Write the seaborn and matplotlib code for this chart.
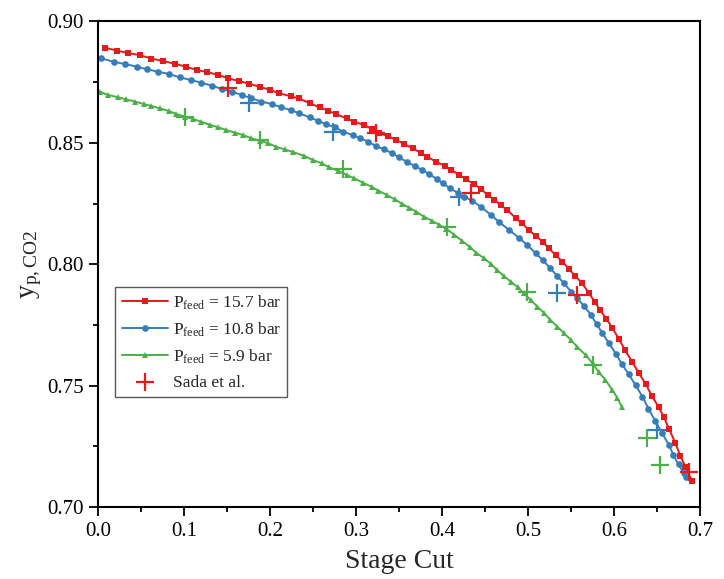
"""Permeate CO2 purity vs stage cut for three feed pressures, with Sada et al. data."""

import numpy as np
import pandas as pd
import seaborn as sns
import matplotlib.pyplot as plt
from matplotlib.ticker import FormatStrFormatter, MultipleLocator

# model curves
red_x = [0.008, 0.022, 0.035, 0.049, 0.062, 0.076, 0.089, 0.102, 0.115, 0.127,
         0.140, 0.151, 0.164, 0.176, 0.188, 0.200, 0.211, 0.224, 0.234, 0.246,
         0.258, 0.267, 0.277, 0.289, 0.298, 0.309, 0.319, 0.327, 0.337, 0.347,
         0.356, 0.366, 0.375, 0.383, 0.393, 0.403, 0.411, 0.420, 0.428, 0.437,
         0.445, 0.453, 0.461, 0.468, 0.476, 0.486, 0.493, 0.501, 0.509, 0.517,
         0.524, 0.532, 0.540, 0.548, 0.555, 0.563, 0.571, 0.578, 0.584, 0.591,
         0.598, 0.606, 0.613, 0.621, 0.629, 0.637, 0.644, 0.652, 0.658, 0.664,
         0.671, 0.677, 0.683, 0.691]
red_y = [0.8892, 0.8880, 0.8870, 0.8861, 0.8847, 0.8837, 0.8826, 0.8814, 0.8800, 0.8791,
         0.8780, 0.8766, 0.8755, 0.8743, 0.8731, 0.8718, 0.8704, 0.8692, 0.8683, 0.8663,
         0.8646, 0.8633, 0.8618, 0.8601, 0.8587, 0.8574, 0.8556, 0.8539, 0.8528, 0.8512,
         0.8495, 0.8478, 0.8459, 0.8443, 0.8422, 0.8405, 0.8388, 0.8368, 0.8350, 0.8330,
         0.8311, 0.8285, 0.8265, 0.8244, 0.8223, 0.8189, 0.8169, 0.8141, 0.8116, 0.8093,
         0.8066, 0.8038, 0.8010, 0.7979, 0.7951, 0.7921, 0.7880, 0.7843, 0.7810, 0.7775,
         0.7738, 0.7690, 0.7645, 0.7598, 0.7551, 0.7505, 0.7458, 0.7410, 0.7370, 0.7322,
         0.7265, 0.7212, 0.7165, 0.7105]

blue_x = [0.004, 0.018, 0.031, 0.045, 0.057, 0.070, 0.082, 0.095, 0.108, 0.120,
          0.132, 0.144, 0.156, 0.167, 0.178, 0.190, 0.202, 0.213, 0.224, 0.234,
          0.246, 0.256, 0.265, 0.275, 0.285, 0.296, 0.305, 0.314, 0.323, 0.333,
          0.342, 0.350, 0.359, 0.368, 0.377, 0.385, 0.394, 0.401, 0.409, 0.418,
          0.426, 0.435, 0.445, 0.457, 0.466, 0.478, 0.490, 0.499, 0.509, 0.517,
          0.526, 0.534, 0.542, 0.550, 0.557, 0.565, 0.573, 0.580, 0.586, 0.594,
          0.602, 0.609, 0.617, 0.625, 0.633, 0.640, 0.648, 0.656, 0.664, 0.669,
          0.675, 0.681, 0.684]
blue_y = [0.8848, 0.8834, 0.8825, 0.8814, 0.8803, 0.8793, 0.8784, 0.8770, 0.8759, 0.8748,
          0.8736, 0.8722, 0.8711, 0.8697, 0.8684, 0.8670, 0.8660, 0.8647, 0.8635, 0.8622,
          0.8605, 0.8591, 0.8576, 0.8565, 0.8546, 0.8532, 0.8519, 0.8505, 0.8487, 0.8473,
          0.8457, 0.8440, 0.8422, 0.8405, 0.8388, 0.8372, 0.8351, 0.8333, 0.8313, 0.8295,
          0.8278, 0.8262, 0.8237, 0.8203, 0.8175, 0.8141, 0.8107, 0.8079, 0.8045, 0.8017,
          0.7983, 0.7951, 0.7921, 0.7887, 0.7860, 0.7828, 0.7792, 0.7752, 0.7718, 0.7675,
          0.7632, 0.7590, 0.7547, 0.7502, 0.7455, 0.7405, 0.7354, 0.7304, 0.7254, 0.7214,
          0.7175, 0.7139, 0.7122]

green_x = [0.002, 0.012, 0.023, 0.033, 0.043, 0.053, 0.062, 0.072, 0.082, 0.091,
           0.101, 0.111, 0.120, 0.130, 0.140, 0.149, 0.159, 0.169, 0.178, 0.188,
           0.198, 0.207, 0.217, 0.227, 0.240, 0.250, 0.260, 0.269, 0.279, 0.289,
           0.298, 0.308, 0.318, 0.326, 0.336, 0.345, 0.354, 0.362, 0.370, 0.379,
           0.388, 0.397, 0.405, 0.414, 0.423, 0.432, 0.440, 0.449, 0.457, 0.464,
           0.472, 0.480, 0.488, 0.495, 0.503, 0.511, 0.519, 0.526, 0.534, 0.542,
           0.550, 0.557, 0.567, 0.575, 0.582, 0.590, 0.598, 0.604, 0.609]
green_y = [0.8711, 0.8697, 0.8688, 0.8679, 0.8670, 0.8660, 0.8652, 0.8642, 0.8632, 0.8619,
           0.8608, 0.8598, 0.8587, 0.8574, 0.8564, 0.8553, 0.8542, 0.8532, 0.8519, 0.8509,
           0.8498, 0.8484, 0.8473, 0.8462, 0.8446, 0.8429, 0.8416, 0.8399, 0.8385, 0.8368,
           0.8354, 0.8336, 0.8319, 0.8303, 0.8285, 0.8267, 0.8248, 0.8233, 0.8216, 0.8196,
           0.8179, 0.8162, 0.8146, 0.8122, 0.8097, 0.8072, 0.8047, 0.8024, 0.8001, 0.7976,
           0.7951, 0.7928, 0.7905, 0.7880, 0.7853, 0.7825, 0.7798, 0.7770, 0.7743, 0.7715,
           0.7688, 0.7660, 0.7626, 0.7592, 0.7557, 0.7523, 0.7482, 0.7448, 0.7413]

# Sada et al. experimental points
sada_red_x = [0.151, 0.323, 0.434, 0.557, 0.687]
sada_red_y = [0.8725, 0.8539, 0.8292, 0.7873, 0.7146]
sada_blue_x = [0.176, 0.273, 0.420, 0.534, 0.650]
sada_blue_y = [0.8663, 0.8546, 0.8278, 0.7880, 0.7317]
sada_green_x = [0.101, 0.188, 0.285, 0.406, 0.499, 0.575, 0.638, 0.654]
sada_green_y = [0.8606, 0.8510, 0.8391, 0.8155, 0.7887, 0.7585, 0.7283, 0.7173]

RED, BLUE, GREEN = "#E41A1C", "#377EB8", "#4DAF4A"

sns.set_theme(style="ticks")
plt.rcParams["font.family"] = ["Liberation Serif", "DejaVu Serif"]
plt.rcParams["mathtext.fontset"] = "custom"
plt.rcParams["mathtext.rm"] = "Liberation Serif"
plt.rcParams["mathtext.it"] = "Liberation Serif:italic"

fig = plt.figure(figsize=(7.24, 5.79), dpi=100)
ax = fig.add_axes([0.1354, 0.1244, 0.8315, 0.8385])

series = [
    (red_x, red_y, RED, "s", r"P$_{\mathrm{feed}}$ = 15.7 bar"),
    (blue_x, blue_y, BLUE, "o", r"P$_{\mathrm{feed}}$ = 10.8 bar"),
    (green_x, green_y, GREEN, "^", r"P$_{\mathrm{feed}}$ = 5.9 bar"),
]
for xs, ys, col, mk, lab in series:
    sns.lineplot(x=xs, y=ys, color=col, marker=mk, markersize=4.8,
                 markeredgewidth=0, linewidth=1.4, sort=False, estimator=None,
                 label=lab, ax=ax)

exp = [
    (sada_red_x, sada_red_y, RED, "Sada et al."),
    (sada_blue_x, sada_blue_y, BLUE, "_nolegend_"),
    (sada_green_x, sada_green_y, GREEN, "_nolegend_"),
]
for xs, ys, col, lab in exp:
    sns.scatterplot(x=xs, y=ys, color=col, marker="+", s=150, linewidth=1.6,
                    label=lab, zorder=5, ax=ax)

ax.set_xlim(0, 0.7)
ax.set_ylim(0.70, 0.90)
ax.xaxis.set_major_locator(MultipleLocator(0.1))
ax.xaxis.set_minor_locator(MultipleLocator(0.05))
ax.yaxis.set_major_locator(MultipleLocator(0.05))
ax.yaxis.set_minor_locator(MultipleLocator(0.025))
ax.xaxis.set_major_formatter(FormatStrFormatter("%.1f"))
ax.yaxis.set_major_formatter(FormatStrFormatter("%.2f"))
ax.tick_params(which="both", direction="out", width=1.3, top=False, right=False,
               colors="black", labelsize=15, pad=4)
ax.tick_params(which="major", length=6.5)
ax.tick_params(which="minor", length=3.3)
for sp in ax.spines.values():
    sp.set_linewidth(1.5)
    sp.set_color("black")

ax.set_xlabel("Stage Cut", fontsize=20, labelpad=6)
ax.set_ylabel(r"y$_{\mathrm{p,CO2}}$", fontsize=20, labelpad=2)

leg = ax.legend(loc="lower left", bbox_to_anchor=(0.029, 0.227), frameon=True,
                fancybox=False, edgecolor="0.35", framealpha=1, fontsize=12.5,
                handlelength=2.65, borderaxespad=0, borderpad=0.35,
                labelspacing=0.5, handletextpad=0.3)
leg.get_frame().set_linewidth(1.0)

fig.savefig("out.png", dpi=100)
